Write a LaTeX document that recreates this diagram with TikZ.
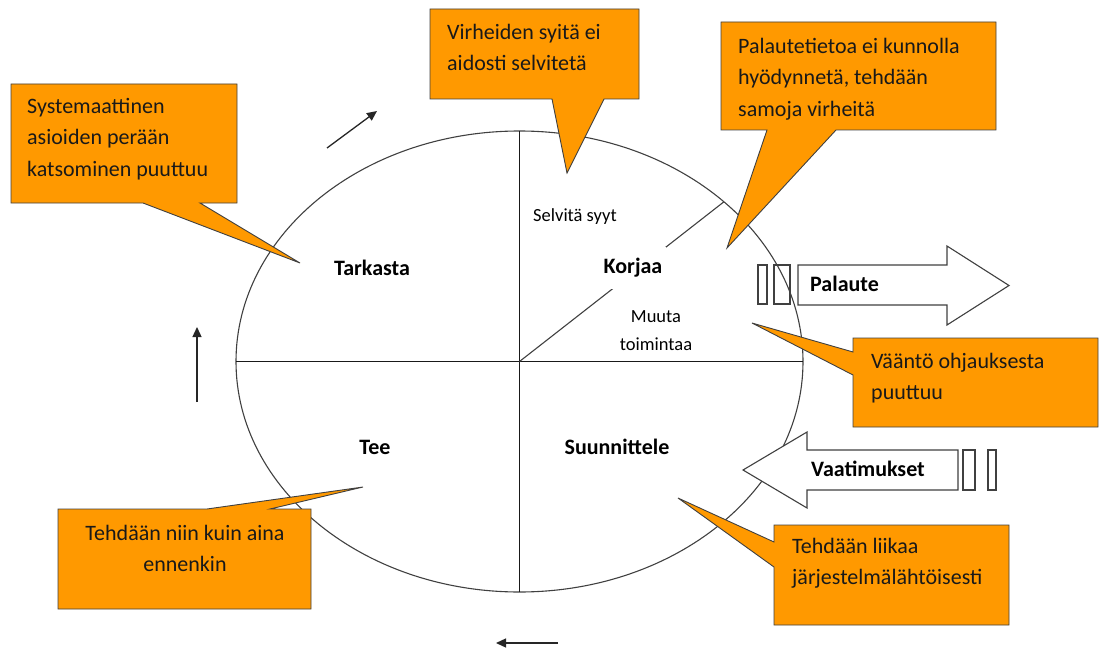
\documentclass[tikz,border=0pt]{standalone}
\usepackage{fontspec}
\setmainfont{Carlito}
\usetikzlibrary{arrows.meta,shapes.geometric}
\definecolor{calloutorange}{RGB}{255,153,0}
\definecolor{edgegray}{RGB}{64,64,64}
\tikzset{
  frame/.style={draw=none, inner sep=0pt, outer sep=0pt},
  callout/.style={fill=calloutorange, draw=edgegray, line width=0.9pt, line join=miter},
  calltext/.style={anchor=north west, inner sep=0pt, align=left, text=black!90,
                   font=\fontsize{22}{31.5}\selectfont},
  phase/.style={inner sep=0pt, font=\fontsize{22}{26}\selectfont\bfseries},
  small/.style={inner sep=0pt, align=center, font=\fontsize{18.5}{28}\selectfont},
  blockarrow/.style={fill=white, draw=edgegray, line width=1.1pt, line join=miter},
  slot/.style={draw=edgegray, line width=1.1pt},
  cycarrow/.style={-{Triangle[length=10pt,width=9pt]}, line width=1.3pt, draw=black!85},
  quadline/.style={draw=black!90, line width=1.3pt}
}
\begin{document}
\begin{tikzpicture}[x=1pt,y=-1pt]
\useasboundingbox (0,0) rectangle (1100,650);

% PDCA circle with its four quadrants
\node[draw=black!75, line width=1.1pt, ellipse, minimum width=567pt, minimum height=461pt,
      inner sep=0pt, outer sep=0pt] (cyc) at (519.5,361.5) {};
\draw[quadline] (cyc.north) -- (cyc.south);
\draw[quadline] (cyc.west) -- (cyc.east);
\draw[line width=1.1pt, draw=black!75] (cyc.center) -- (cyc.38);

\node[phase] (tarkasta) at (372,268) {Tarkasta};
\node[phase] (tee) at (375,447) {Tee};
\node[phase] (suunnittele) at (617,447) {Suunnittele};
\node[phase, fill=white, inner xsep=4pt, inner ysep=11pt] (korjaa) at (633,268) {Korjaa};
\node[small] (selvita) at (575,217) {Selvitä syyt};
\node[small] (muuta) at (656,331) {Muuta\\toimintaa};

% direction of the cycle
\coordinate (up0) at (197,402);  \coordinate (up1) at (197,327);
\coordinate (ur0) at (327,148);  \coordinate (ur1) at (377,111);
\coordinate (lf0) at (558,643);  \coordinate (lf1) at (496,643);
\draw[cycarrow] (up0) -- (up1);
\draw[cycarrow] (ur0) -- (ur1);
\draw[cycarrow] (lf0) -- (lf1);

% feedback out, requirements in
\coordinate (pa1) at (798,265); \coordinate (pa2) at (947,265); \coordinate (pa3) at (947,246);
\coordinate (pa4) at (1009,285.5); \coordinate (pa5) at (947,325); \coordinate (pa6) at (947,305);
\coordinate (pa7) at (798,305);
\path[blockarrow] (pa1) -- (pa2) -- (pa3) -- (pa4) -- (pa5) -- (pa6) -- (pa7) -- cycle;
\node[phase, anchor=west] (palaute) at (810,284) {Palaute};
\draw[slot] (758,265) rectangle (767,304);
\draw[slot] (774,265) rectangle (790,304);

\coordinate (va1) at (958,450); \coordinate (va2) at (807,450); \coordinate (va3) at (807,432);
\coordinate (va4) at (743,470); \coordinate (va5) at (807,508); \coordinate (va6) at (807,490);
\coordinate (va7) at (958,490);
\path[blockarrow] (va1) -- (va2) -- (va3) -- (va4) -- (va5) -- (va6) -- (va7) -- cycle;
\node[phase] (vaatimukset) at (868,469) {Vaatimukset};
\draw[slot] (963,450) rectangle (975,490);
\draw[slot] (988,450) rectangle (996,490);

% callout 1: Tarkasta
\node[frame, minimum width=226pt, minimum height=119pt] (c1) at (124,143.5) {};
\coordinate (c1tip) at (300,263);
\path[callout] (c1.north west) -- (c1.north east) -- (c1.south east)
  -- ([xshift=-37pt]c1.south east) -- (c1tip) -- ([xshift=132pt]c1.south west)
  -- (c1.south west) -- cycle;
\node[calltext] (t1) at (27,91) {\strut Systemaattinen\\asioiden perään\\katsominen puuttuu};

% callout 2: root causes
\node[frame, minimum width=209pt, minimum height=90pt] (c2) at (534.5,54) {};
\coordinate (c2tip) at (567,173);
\path[callout] (c2.north west) -- (c2.north east) -- (c2.south east)
  -- ([xshift=-35pt]c2.south east) -- (c2tip) -- ([xshift=122pt]c2.south west)
  -- (c2.south west) -- cycle;
\node[calltext] (t2) at (447,17) {\strut Virheiden syitä ei\\aidosti selvitetä};

% callout 3: feedback
\node[frame, minimum width=275pt, minimum height=108pt] (c3) at (858.5,76) {};
\coordinate (c3tip) at (727,248);
\path[callout] (c3.north west) -- (c3.north east) -- (c3.south east)
  -- ([xshift=115pt]c3.south west) -- (c3tip) -- ([xshift=46pt]c3.south west)
  -- (c3.south west) -- cycle;
\node[calltext] (t3) at (738,31) {\strut Palautetietoa ei kunnolla\\hyödynnetä, tehdään\\samoja virheitä};

% callout 4: steering
\node[frame, minimum width=245pt, minimum height=89pt] (c4) at (975.5,382.5) {};
\coordinate (c4tip) at (752,323);
\path[callout] (c4.north west) -- (c4.north east) -- (c4.south east) -- (c4.south west)
  -- ([yshift=-37pt]c4.north west) -- (c4tip) -- ([yshift=-14pt]c4.north west) -- cycle;
\node[calltext] (t4) at (871,346) {\strut Vääntö ohjauksesta\\puuttuu};

% callout 5: Tee
\node[frame, minimum width=253pt, minimum height=100pt] (c5) at (184.5,559) {};
\coordinate (c5tip) at (363,487);
\path[callout] (c5.north west) -- ([xshift=149pt]c5.north west) -- (c5tip)
  -- ([xshift=212pt]c5.north west) -- (c5.north east) -- (c5.south east)
  -- (c5.south west) -- cycle;
\node[calltext, anchor=north, align=center] (t5) at (185,518) {\strut Tehdään niin kuin aina\\ennenkin};

% callout 6: Suunnittele
\node[frame, minimum width=235pt, minimum height=100pt] (c6) at (891.5,575) {};
\coordinate (c6tip) at (678,498);
\path[callout] (c6.north west) -- (c6.north east) -- (c6.south east) -- (c6.south west)
  -- ([yshift=-42pt]c6.north west) -- (c6tip) -- ([yshift=-17pt]c6.north west) -- cycle;
\node[calltext] (t6) at (792,531) {\strut Tehdään liikaa\\järjestelmälähtöisesti};

\end{tikzpicture}
\end{document}
